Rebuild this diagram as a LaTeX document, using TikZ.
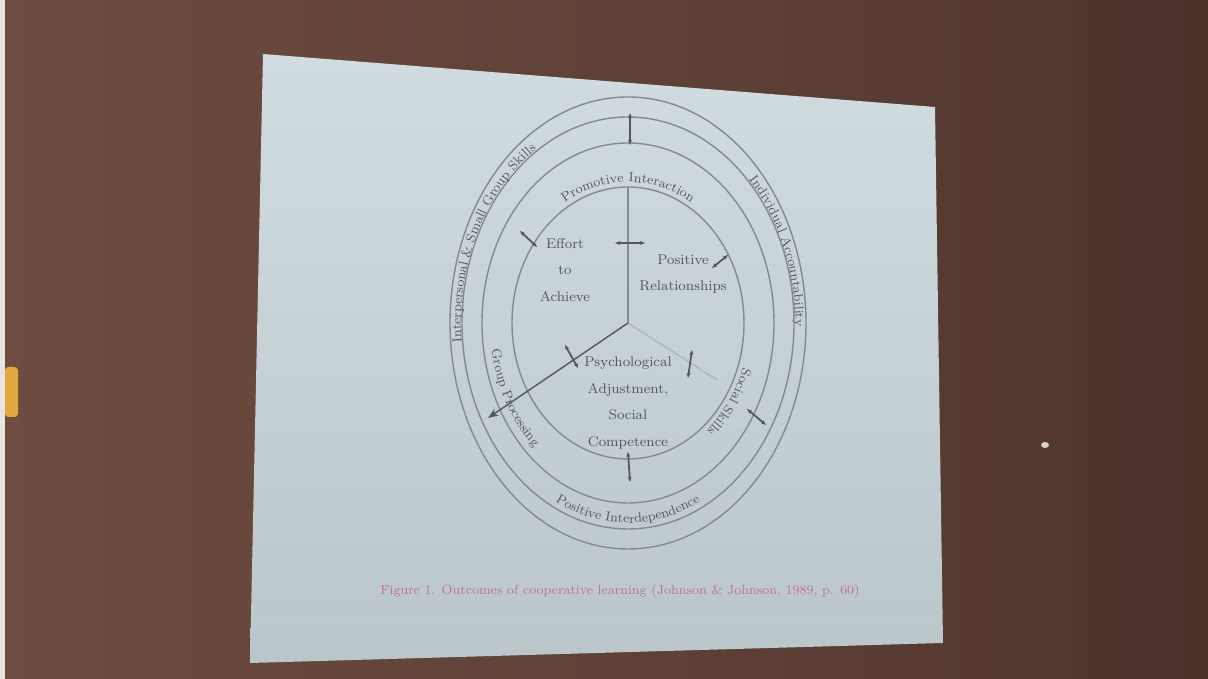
\documentclass[tikz,border=0pt]{standalone}
\usetikzlibrary{decorations.text,arrows.meta}
\definecolor{wallL}{RGB}{110,76,63}
\definecolor{wallR}{RGB}{80,54,47}
\definecolor{lamp}{RGB}{226,168,62}
\definecolor{slideT}{RGB}{208,220,224}
\definecolor{slideB}{RGB}{186,198,202}
\definecolor{ln}{RGB}{132,138,144}
\definecolor{txt}{RGB}{84,88,94}
\definecolor{cap}{RGB}{192,112,150}
\tikzset{
  ring/.style={draw=ln, line width=0.8pt},
  lbl/.style={align=center, text=txt, font=\fontsize{8}{15}\selectfont},
  dbl/.style={{Stealth[length=3pt]}-{Stealth[length=3pt]}, draw=txt, line width=1pt},
  arctext/.style={decorate, decoration={text along path, text align=center,
    text color=txt, text={|\fontsize{7.5}{9}\selectfont|#1}}}
}
\begin{document}
\begin{tikzpicture}[x=0.02cm,y=0.02cm]
\useasboundingbox (0,0) rectangle (1208,679);
% wall and slide
\shade[left color=wallL, right color=wallR] (0,0) rectangle (1208,679);
\fill[white!85!wallL] (0,0) rectangle (5,679);
\fill[wallR!80!black, opacity=0.35] (1088,0) rectangle (1208,679);
\fill[lamp, rounded corners=2pt] (5,262) rectangle (18,312);
\fill[white!75!wallL] (1045,234) ellipse[x radius=4, y radius=3];
\shade[top color=slideT, bottom color=slideB] (263,625) -- (935,572) -- (943,36) -- (250,16) -- cycle;

\coordinate (hub) at (628,356);
\foreach \rx/\ry in {178/226,166/206,146/180,116/136}
  \draw[ring] (hub) ellipse[x radius=\rx, y radius=\ry];

\coordinate (top) at (628,492);
\coordinate (se) at (717,299);
\coordinate (sw) at (488,261);
\draw[ring] (hub) -- (top);
\draw[ring, draw=ln!45!slideT] (hub) -- (se);
\draw[txt, line width=0.8pt, -{Stealth[length=6pt]}] (hub) -- (sw);

\path[arctext={Promotive Interaction}] (hub) ++(150:121 and 141) arc[start angle=150, end angle=30, x radius=121, y radius=141];
\path[arctext={Individual Accountability}] (hub) ++(85:167 and 208) arc[start angle=85, end angle=-37, x radius=167, y radius=208];
\path[arctext={Interpersonal {\&} Small Group Skills}] (hub) ++(200:167 and 208) arc[start angle=200, end angle=106, x radius=167, y radius=208];
\path[arctext={Positive Interdependence}] (hub) ++(235:160 and 200) arc[start angle=235, end angle=305, x radius=160, y radius=200];
\path[arctext={Group Processing}] (hub) ++(165:138 and 170) arc[start angle=165, end angle=255, x radius=138, y radius=170];
\path[arctext={Social Skills}] (hub) ++(0:121 and 141) arc[start angle=0, end angle=-70, x radius=121, y radius=141];

\node[lbl] (effort) at (565,409) {Effort\\to\\Achieve};
\node[lbl] (relation) at (683,405) {Positive\\Relationships};
\node[lbl] (psych) at (628,276) {Psychological\\Adjustment,\\Social\\Competence};

\foreach \i/\a/\b in {1/{630,566}/{630,534}, 2/{520,448}/{537,432}, 3/{615,436}/{645,436},
    4/{712,411}/{728,424}, 5/{692,329}/{688,301}, 6/{565,334}/{578,311},
    7/{747,270}/{766,254}, 8/{628,227}/{630,197}} {
  \coordinate (m\i a) at (\a);
  \coordinate (m\i b) at (\b);
  \draw[dbl] (m\i a) -- (m\i b);
}

\node[text=cap, font=\fontsize{7.5}{9}\selectfont] (caption) at (620,88)
  {Figure 1. Outcomes of cooperative learning (Johnson \& Johnson, 1989, p. 60)};
\end{tikzpicture}
\end{document}
